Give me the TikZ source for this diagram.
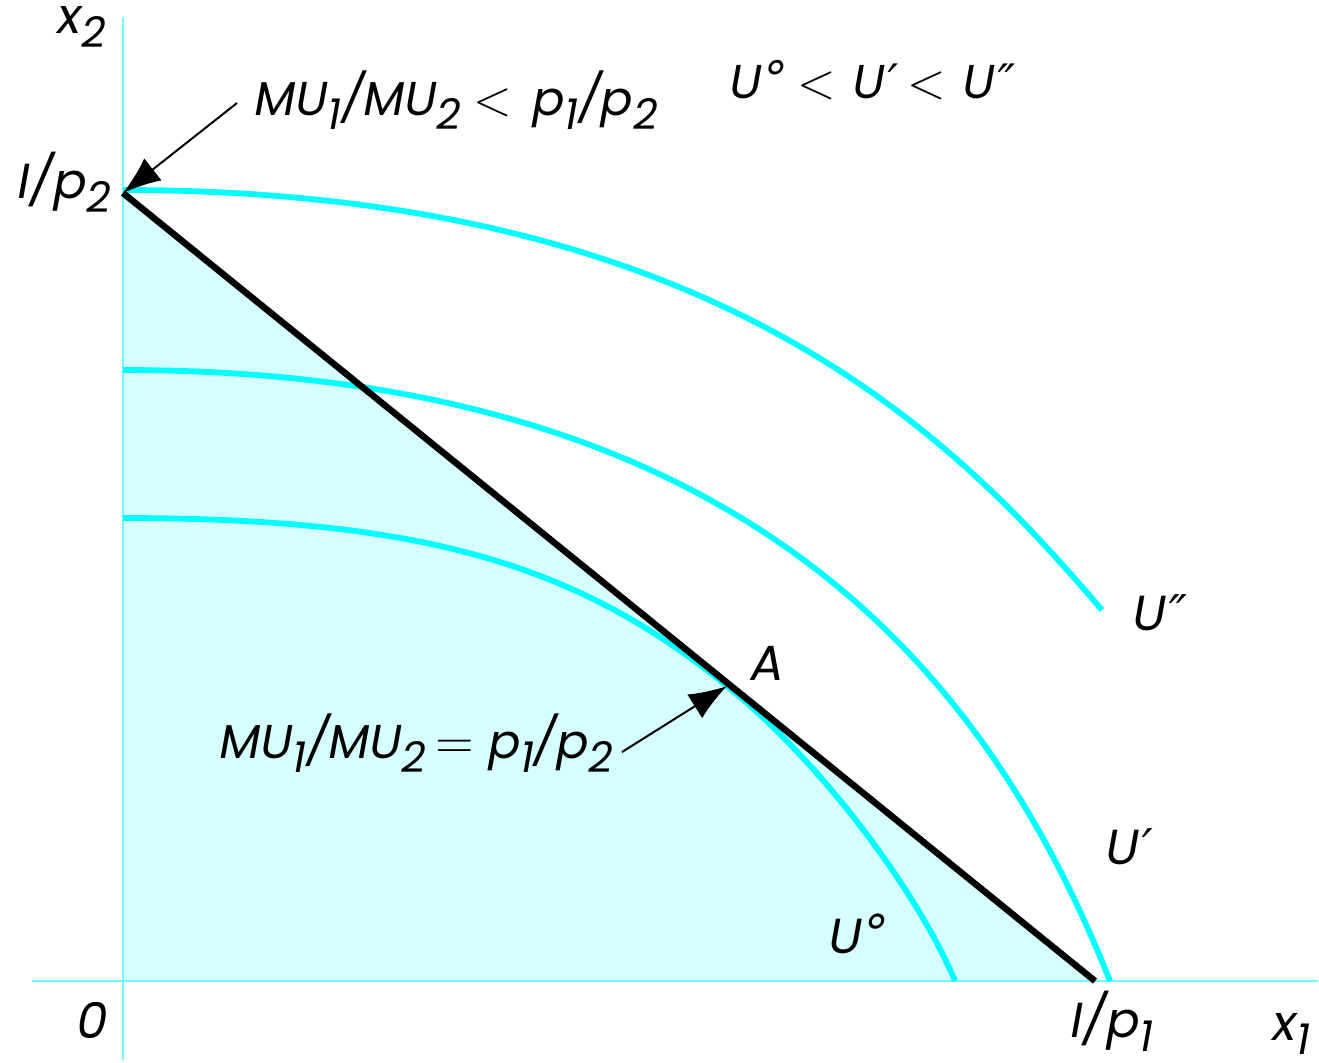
\documentclass[tikz,border=0pt]{standalone}
\usepackage{fontspec}
\setmainfont{Poppins}
\newfontfamily\lab[FakeSlant=0.18]{Poppins}
\newfontfamily\primef[FakeSlant=0.18]{DejaVu Sans}
\usetikzlibrary{arrows.meta}
\definecolor{ucyan}{RGB}{0,255,255}
\definecolor{uaxis}{RGB}{110,255,255}
\definecolor{ufill}{RGB}{214,255,255}
\newcommand\sbs[1]{\raisebox{-0.3em}{\fontsize{12}{12}\selectfont #1}}
\newcommand\prm{{\primef ′}}
\newcommand\dprm{{\primef ″}}
\newcommand\dgr{{\primef\raisebox{0.05em}{°}}}
\newcommand\rel[1]{{\fontsize{14.4}{14.4}\selectfont$#1$}}
\tikzset{
  lbl/.style={inner sep=0pt, anchor=base west, font=\lab\fontsize{14}{16}\selectfont},
  lblm/.style={lbl, font=\lab\fontsize{13.5}{16}\selectfont},
  curve/.style={draw=ucyan, line width=0.058cm},
  axis/.style={draw=uaxis, line width=0.02cm},
  budget/.style={draw=black, line width=0.065cm},
  arr/.style={-{Latex[length=3.8mm,width=2.8mm]}, line width=0.02cm}
}
\begin{document}
\begin{tikzpicture}[x=0.01cm, y=-0.01cm]
\useasboundingbox (0,0) rectangle (1319,1062);
% key points
\coordinate (Ip2) at (123,193);
\coordinate (Ip1) at (1095,981);
\coordinate (O) at (123,981);
\coordinate (A) at (727,686);
\coordinate (t1) at (237,103);
\coordinate (t2) at (622,752);
% shaded budget set
\fill[ufill] (Ip2) -- (O) -- (Ip1) -- cycle;
% axes
\draw[axis] (123,17) -- (123,1060);
\draw[axis] (32,981) -- (1318,981);
% indifference curves
\draw[curve] (123,190) .. controls (723,190) and (959,443) .. (1102,610);
\draw[curve] (123,370) .. controls (773,370) and (999,703) .. (1110,981);
\draw[curve] (123,518) .. controls (423,518) and (577,564.4) .. (A)
             .. controls (827,767.1) and (920.4,897.9) .. (955,981);
% budget line
\draw[budget] (Ip2) -- (Ip1);
% arrows
\draw[arr] (t1) -- (Ip2);
\draw[arr] (t2) -- (A);
% labels
\node[lbl] (lx2) at (55,33) {x\sbs{2}};
\node[lbl] (lip2) at (15,198) {I/p\sbs{2}};
\node[lblm] (llt) at (252,115) {MU\sbs{1}/MU\sbs{2}\hspace{0.3em}\rel{<}\hspace{0.4em}p\sbs{1}/p\sbs{2}};
\node[lblm] (lord) at (727,98) {U\dgr\hspace{0.3em}\rel{<}\hspace{0.3em}U\prm\hspace{0.3em}\rel{<}\hspace{0.3em}U\dprm};
\node[lbl] (lA) at (748,680) {A};
\node[lblm] (leq) at (217,758) {MU\sbs{1}/MU\sbs{2}\hspace{0.25em}\rel{=}\hspace{0.25em}p\sbs{1}/p\sbs{2}};
\node[lbl] (lU2) at (1130,630) {U\dprm};
\node[lbl] (lU1) at (1103,864) {U\prm};
\node[lbl] (lU0) at (826,953) {U\dgr};
\node[lbl] (l0) at (74,1038) {0};
\node[lbl] (lip1) at (1068,1037) {I/p\sbs{1}};
\node[lbl] (lx1) at (1270,1040) {x\sbs{1}};
\end{tikzpicture}
\end{document}
